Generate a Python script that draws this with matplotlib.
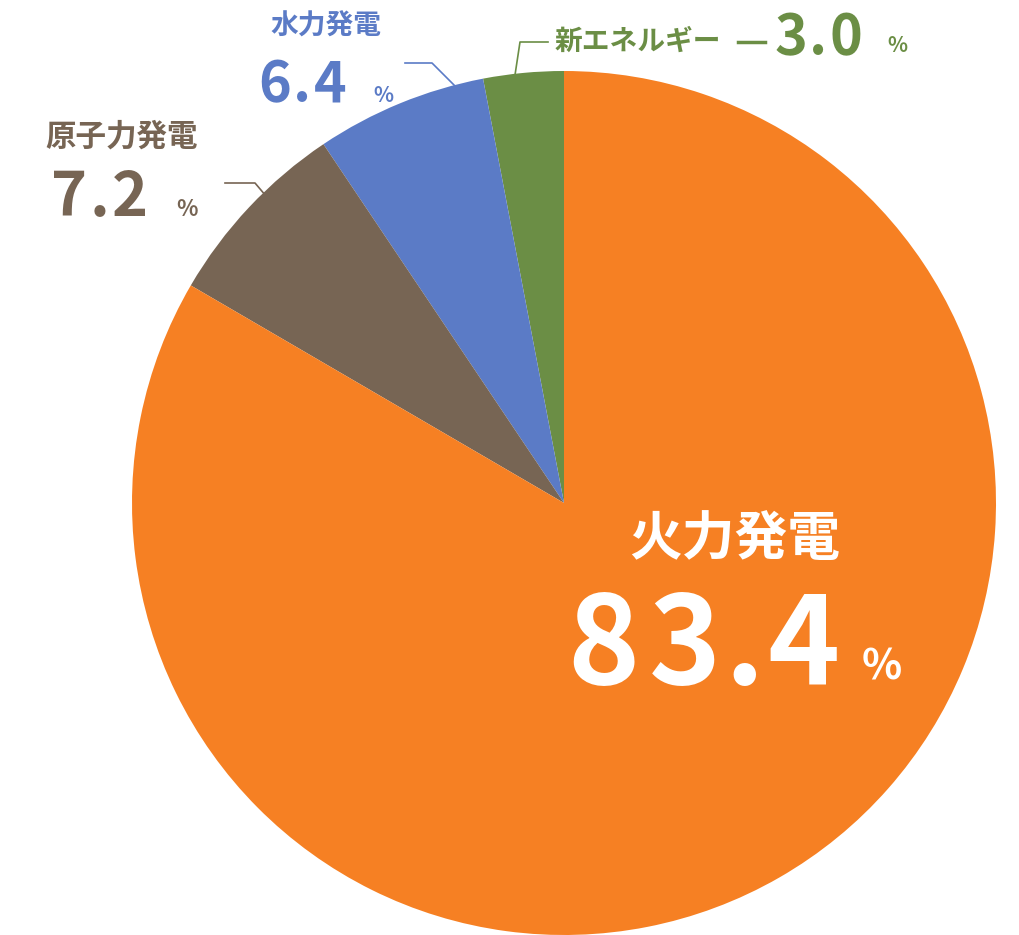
import matplotlib
matplotlib.use('Agg')
import matplotlib.pyplot as plt

# データ
labels = ['新エネルギー', '水力発電', '原子力発電', '火力発電']
values = [3.0, 6.4, 7.2, 83.4]
colors = ['#6B8E45', '#5B7BC6', '#776554', '#F68023']

plt.rcParams['font.family'] = ['Noto Sans CJK JP', 'DejaVu Sans']

W, H = 1020, 935
fig = plt.figure(figsize=(W / 100, H / 100), dpi=100)

cx, cy, r = 564, 503, 432
ax = fig.add_axes([(cx - r) / W, (H - cy - r) / H, 2 * r / W, 2 * r / H])
ax.pie(values, colors=colors, startangle=90, counterclock=True,
       wedgeprops=dict(linewidth=0))
ax.set_xlim(-1, 1)
ax.set_ylim(-1, 1)
ax.set_aspect('equal')
ax.axis('off')


def fx(x):
    return x / W


def fy(y):
    return 1 - y / H


def spaced(x, y, s, step, color, size):
    # 文字間を広げて描画
    for i, ch in enumerate(s):
        w = step * (0.45 if ch == '.' else 1.0)
        fig.text(fx(x + w / 2), fy(y), ch, color=color, fontsize=size,
                 fontweight='bold', ha='center', va='center')
        x += w


# 火力発電
fig.text(fx(735), fy(540), labels[3], color='white', fontsize=38,
         fontweight='bold', ha='center', va='center')
spaced(562, 648, f'{values[3]:.1f}', 82, 'white', 88)
fig.text(fx(882), fy(668), '%', color='white', fontsize=30,
         fontweight='bold', ha='center', va='center')

# 原子力発電
fig.text(fx(122), fy(137), labels[2], color=colors[2], fontsize=22,
         fontweight='bold', ha='center', va='center')
spaced(48, 198, f'{values[2]:.1f}', 42, colors[2], 44)
fig.text(fx(187), fy(210), '%', color=colors[2], fontsize=16,
         fontweight='bold', ha='center', va='center')
fig.add_artist(plt.Line2D([fx(225), fx(255), fx(266)], [fy(183), fy(183), fy(196)],
                          color=colors[2], lw=1.2))

# 水力発電
fig.text(fx(326), fy(27), labels[1], color=colors[1], fontsize=20,
         fontweight='bold', ha='center', va='center')
spaced(256, 85, f'{values[1]:.1f}', 38, colors[1], 40)
fig.text(fx(383), fy(95), '%', color=colors[1], fontsize=15,
         fontweight='bold', ha='center', va='center')
fig.add_artist(plt.Line2D([fx(405), fx(432), fx(455)], [fy(63), fy(63), fy(86)],
                          color=colors[1], lw=1.2))

# 新エネルギー
fig.text(fx(555), fy(42), labels[0], color=colors[0], fontsize=20,
         fontweight='bold', ha='left', va='center')
fig.add_artist(plt.Line2D([fx(738), fx(765)], [fy(42), fy(42)],
                          color=colors[0], lw=2.5))
spaced(772, 38, f'{values[0]:.1f}', 38, colors[0], 40)
fig.text(fx(897), fy(46), '%', color=colors[0], fontsize=15,
         fontweight='bold', ha='center', va='center')
fig.add_artist(plt.Line2D([fx(515), fx(520), fx(548)], [fy(75), fy(42), fy(42)],
                          color=colors[0], lw=1.2))

fig.savefig('out.png', dpi=100)
